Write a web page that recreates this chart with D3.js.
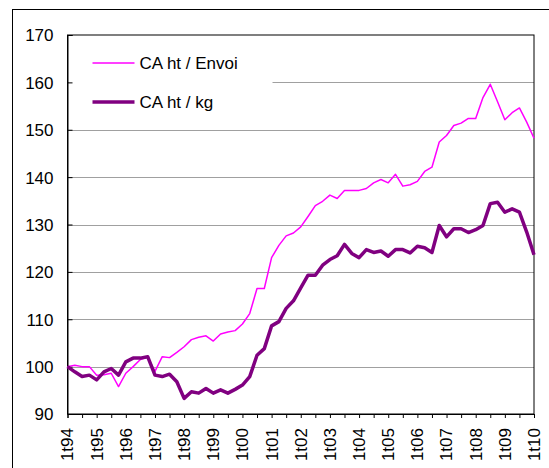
<!DOCTYPE html>
<html>
<head>
<meta charset="utf-8">
<script src="https://cdn.jsdelivr.net/npm/d3@7"></script>
<style>
  body { margin: 0; background: #fff; }
  text { font-family: "Liberation Sans", Arial, sans-serif; font-size: 17px; fill: #000; }
</style>
</head>
<body>
<div id="chart"></div>
<script>
var years = ["94","95","96","97","98","99","00","01","02","03","04","05","06","07","08","09","10"];
var yTicks = [90, 100, 110, 120, 130, 140, 150, 160, 170];

// quarterly index, 1t94 = 100
var envoi = [
  100, 100.3, 100, 100, 98.2, 98.3, 98.6, 95.8, 98.6, 100, 101.5, 102, 99,
  102.1, 101.9, 103, 104.2, 105.7, 106.2, 106.5, 105.4, 106.9, 107.3, 107.6, 109,
  111.2, 116.5, 116.5, 123, 125.6, 127.6, 128.2, 129.5, 131.7, 134, 134.9, 136.2,
  135.5, 137.2, 137.2, 137.2, 137.6, 138.8, 139.5, 138.8, 140.6, 138.1, 138.4, 139.1,
  141.2, 142.1, 147.4, 148.8, 150.9, 151.4, 152.4, 152.4, 156.8, 159.6, 155.9, 152.1,
  153.6, 154.6, 151.6, 148.2
];
var kg = [
  100, 98.9, 97.9, 98.2, 97.2, 98.9, 99.6, 98.2, 101, 101.8, 101.8, 102.1, 98.2,
  97.9, 98.4, 96.8, 93.3, 94.7, 94.4, 95.4, 94.4, 95.1, 94.4, 95.2, 96.1,
  97.9, 102.4, 103.8, 108.6, 109.5, 112.3, 113.9, 116.6, 119.3, 119.3, 121.4, 122.6,
  123.4, 125.8, 123.9, 123, 124.7, 124.1, 124.4, 123.3, 124.7, 124.7, 124, 125.4,
  125.1, 124.1, 129.8, 127.4, 129.1, 129.1, 128.3, 128.9, 129.8, 134.4, 134.7, 132.6,
  133.3, 132.6, 128.4, 123.6
];
var seriesNames = ["CA ht / Envoi", "CA ht / kg"];
var seriesColors = ["#ff00ff", "#800080"];
var seriesWidths = [1.5, 3.5];

var width = 549, height = 468;
var margin = {top: 35, right: 15, bottom: 54, left: 67.5};
var innerW = width - margin.left - margin.right,
    innerH = height - margin.top - margin.bottom;

var svg = d3.select("#chart").append("svg")
    .attr("width", width)
    .attr("height", height);

// outer chart frame
svg.append("rect")
    .attr("x", 12.5).attr("y", 9.5)
    .attr("width", 700).attr("height", 700)
    .attr("fill", "none")
    .attr("stroke", "#000")
    .attr("stroke-width", 1);

var g = svg.append("g")
    .attr("transform", "translate(" + margin.left + "," + margin.top + ")");

var n = envoi.length;
var x = d3.scaleLinear().domain([0, n - 1]).range([0, innerW]);
var y = d3.scaleLinear().domain([90, 170]).range([innerH, 0]);

// gridlines
g.append("g")
  .selectAll("line")
  .data(yTicks.slice(1, -1))
  .enter().append("line")
    .attr("x1", 0).attr("x2", innerW)
    .attr("y1", function(d) { return Math.round(y(d)) + 0.5; })
    .attr("y2", function(d) { return Math.round(y(d)) + 0.5; })
    .attr("stroke", "#a0a0a0")
    .attr("stroke-width", 1.2);

// plot border (top / right)
g.append("rect")
    .attr("x", 0).attr("y", 0)
    .attr("width", innerW).attr("height", innerH)
    .attr("fill", "none")
    .attr("stroke", "#000")
    .attr("stroke-width", 1);

// legend box hides gridline behind it
g.append("rect")
    .attr("x", 1).attr("y", 3)
    .attr("width", 204).attr("height", 85)
    .attr("fill", "#fff");

// axes
var yAxis = g.append("g")
    .call(d3.axisLeft(y).tickValues(yTicks).tickSize(-5).tickPadding(14).tickFormat(d3.format("d")));
yAxis.select(".domain").attr("stroke", "#000");
yAxis.selectAll("text").style("font-size", "17px").attr("dy", "0.35em");

var xAxis = g.append("g")
    .attr("transform", "translate(0," + innerH + ")")
    .call(d3.axisBottom(x).tickValues(d3.range(0, n, 2)).tickSize(4).tickFormat(""));
xAxis.select(".domain").attr("stroke", "#000");

g.append("g")
  .selectAll("text")
  .data(years)
  .enter().append("text")
    .attr("transform", function(d, i) {
      return "translate(" + x(i * 4) + "," + (innerH + 14) + ") rotate(-90)";
    })
    .attr("text-anchor", "end")
    .attr("dy", "0.35em")
    .text(function(d) { return "1t" + d; });

// lines
var line = d3.line()
    .x(function(d, i) { return x(i); })
    .y(function(d) { return y(d); });

[envoi, kg].forEach(function(s, k) {
  g.append("path")
    .datum(s)
    .attr("d", line)
    .attr("fill", "none")
    .attr("stroke", seriesColors[k])
    .attr("stroke-width", seriesWidths[k])
    .attr("stroke-linejoin", "round");
});

// legend
var legend = g.append("g");
seriesNames.forEach(function(name, k) {
  var ly = [28, 67][k];
  legend.append("line")
    .attr("x1", 25).attr("x2", 67)
    .attr("y1", ly).attr("y2", ly)
    .attr("stroke", seriesColors[k])
    .attr("stroke-width", seriesWidths[k]);
  legend.append("text")
    .attr("x", 72).attr("y", ly)
    .attr("dy", "0.35em")
    .text(name);
});
</script>
</body>
</html>
